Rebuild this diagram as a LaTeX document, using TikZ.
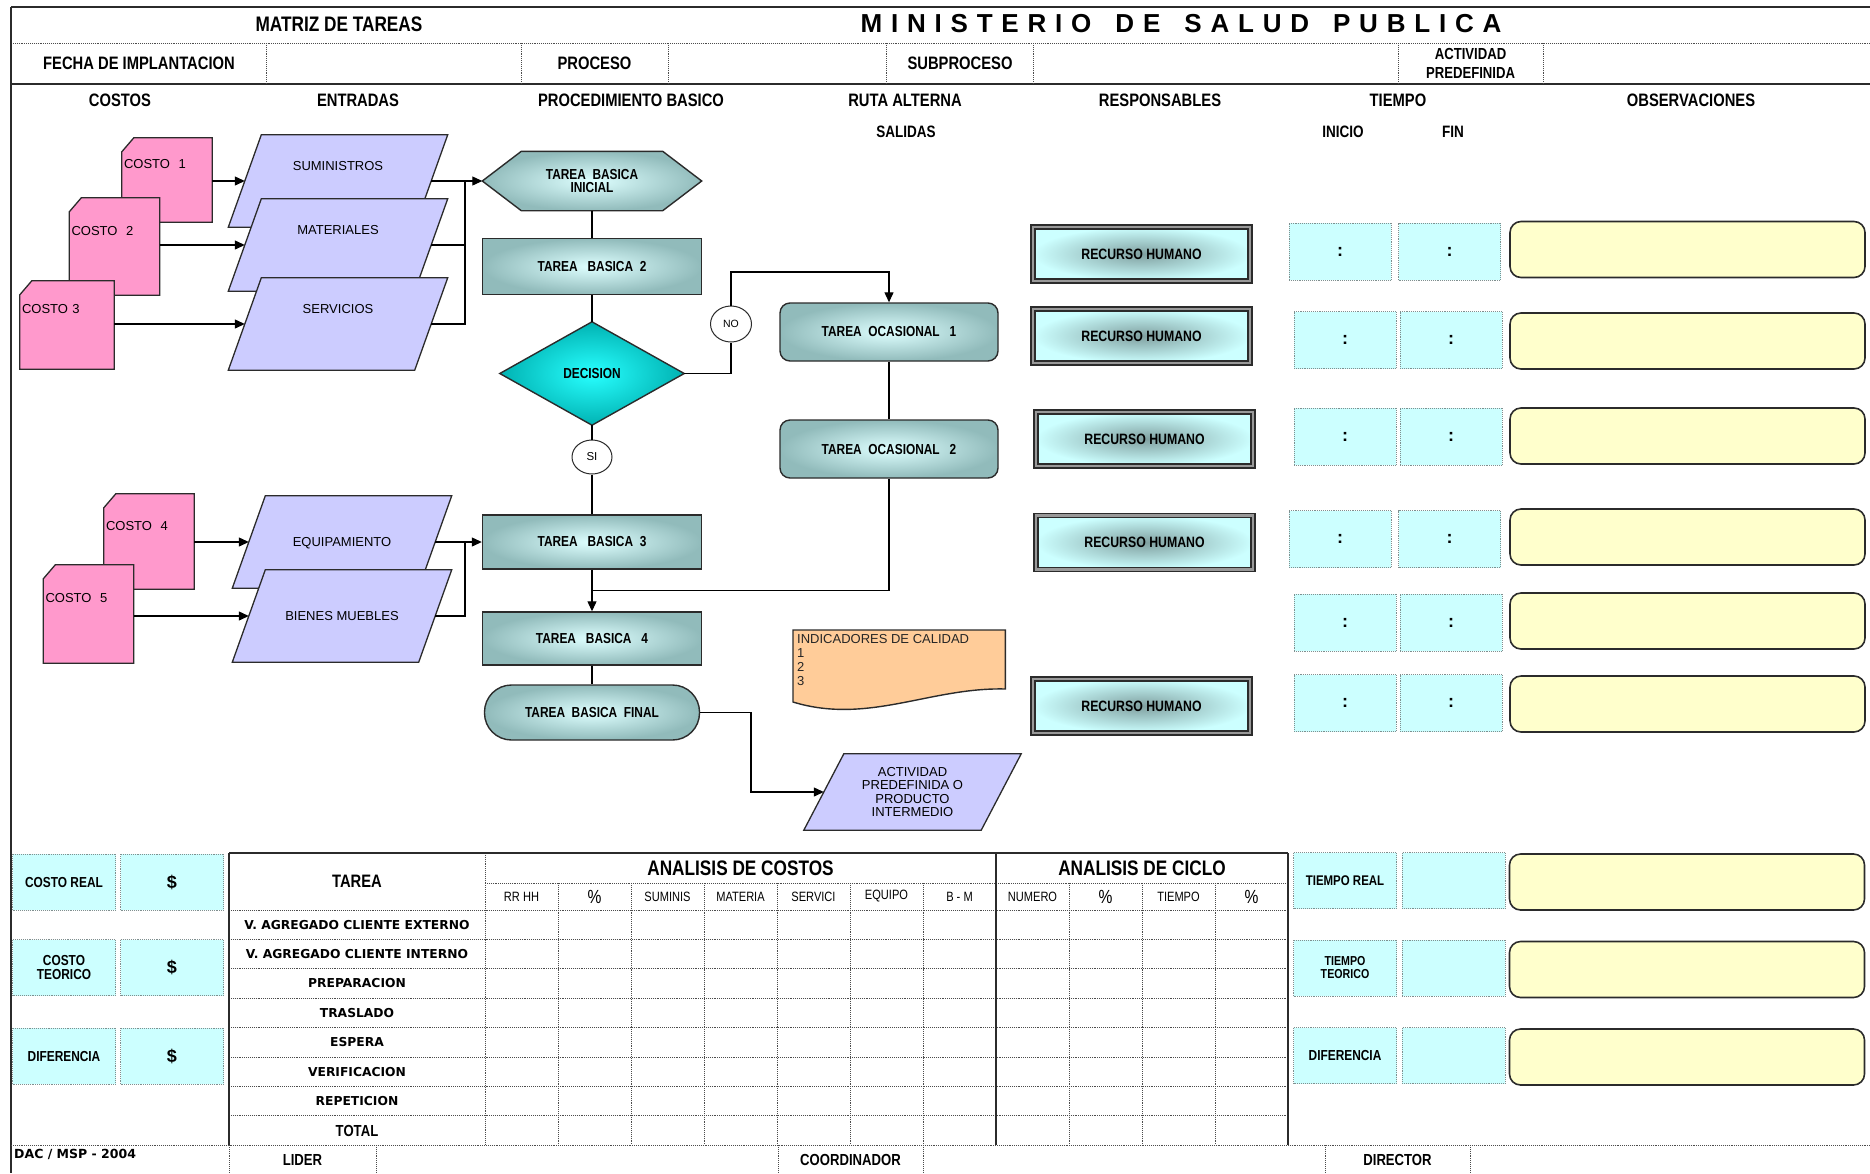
\documentclass[tikz,border=0pt]{standalone}
\usepackage{fontspec}
\setmainfont{Liberation Sans}
\newfontfamily\narrowfont[FakeStretch=0.82]{Liberation Sans}
\newfontfamily\heavyfont{DejaVu Sans}
\usetikzlibrary{shapes.geometric,arrows.meta,calc}
\pgfdeclarelayer{bg}
\pgfsetlayers{bg,main}

\definecolor{costpink}{HTML}{FF99CC}
\definecolor{inputlav}{HTML}{CCCCFF}
\definecolor{tealedge}{RGB}{145,187,187}
\definecolor{tealcore}{RGB}{222,255,255}
\definecolor{decedge}{RGB}{0,178,178}
\definecolor{deccore}{RGB}{40,255,255}
\definecolor{palecyan}{HTML}{CCFFFF}
\definecolor{paleyellow}{HTML}{FFFFCC}
\definecolor{peach}{HTML}{FFCC99}
\definecolor{rhcore}{RGB}{128,160,160}
\definecolor{ink}{HTML}{2B2B2B}
\definecolor{dotgray}{HTML}{7F8F8F}

\newcommand\msplet{\kern8.8pt}
\newcommand\mspword{\kern24pt}

\tikzset{
  frame/.style={draw=ink, line width=1.6pt},
  dotline/.style={draw=black!70, densely dotted, line width=0.9pt},
  hd/.style={font=\narrowfont\bfseries\fontsize{18}{20}\selectfont, inner sep=0pt},
  hdsmall/.style={font=\narrowfont\bfseries\fontsize{16}{19}\selectfont, inner sep=0pt, align=center},
  ft/.style={font=\narrowfont\bfseries\fontsize{14.5}{13}\selectfont, align=center, inner sep=0pt},
  cardbox/.style={inner sep=2pt, text width=86pt, align=left, text depth=32pt, font=\fontsize{13}{15}\selectfont},
  cardshape/.style={draw=ink, line width=1.3pt, fill=costpink},
  inbox/.style={inner sep=0pt, minimum width=186pt, minimum height=92pt, text depth=30pt, font=\fontsize{13}{15}\selectfont},
  inshape/.style={draw=ink, line width=1.3pt, fill=inputlav},
  tealbox/.style={draw=ink, line width=1.4pt, inner color=tealcore, outer color=tealedge, minimum width=219pt, minimum height=56pt, ft},
  bubble/.style={ellipse, draw=ink, line width=1pt, fill=white, inner sep=0pt, font=\fontsize{11.5}{12}\selectfont},
  rhbox/.style={draw=ink, line width=1.6pt, double=black!40, double distance=2.6pt, inner color=rhcore, outer color=palecyan, minimum width=217pt, minimum height=54pt, font=\narrowfont\bfseries\fontsize{15}{16}\selectfont},
  timecell/.style={fill=palecyan, draw=dotgray, densely dotted, line width=0.9pt, minimum width=102pt, minimum height=57pt, inner sep=0pt, font=\bfseries\fontsize{18}{18}\selectfont},
  obsbox/.style={fill=paleyellow, draw=ink, line width=1.6pt, rounded corners=11pt, minimum width=355pt, minimum height=56pt},
  arr/.style={draw=black, line width=1.2pt, -{Triangle[length=10pt,width=9pt]}},
  link/.style={draw=black, line width=1.2pt},
  rowlbl/.style={font=\heavyfont\bfseries\fontsize{12.3}{13}\selectfont, inner sep=0pt},
  subhd/.style={font=\narrowfont\fontsize{13.5}{14}\selectfont, inner sep=0pt},
  pct/.style={font=\narrowfont\fontsize{19}{19}\selectfont, inner sep=0pt},
  sumlbl/.style={fill=palecyan, draw=dotgray, densely dotted, line width=0.9pt, minimum width=103pt, minimum height=56pt, inner sep=0pt, align=center, font=\narrowfont\bfseries\fontsize{14.5}{14}\selectfont},
}

\begin{document}
\begin{tikzpicture}[x=1pt,y=-1pt]
\useasboundingbox (0,0) rectangle (1870,1173);

% ---------- form frame ----------
\draw[frame, line width=2pt] (11,7) -- (1870,7);
\draw[dotline] (11,43) -- (1870,43);
\draw[frame, line width=2.2pt] (11,84) -- (1870,84);
\draw[frame] (11,7) -- (11,1173);
\foreach \vx in {266,521,668,886,1033,1398,1543}
  \draw[dotline] (\vx,43) -- (\vx,84);

% ---------- header texts ----------
\node[font=\narrowfont\bfseries\fontsize{21}{23}\selectfont, inner sep=0pt] (mtitle) at (339,24) {MATRIZ DE TAREAS};
\node[font=\bfseries\fontsize{26}{28}\selectfont, inner sep=0pt] (ministry) at (1181,24)
  {M\msplet I\msplet N\msplet I\msplet S\msplet T\msplet E\msplet R\msplet I\msplet O\mspword D\msplet E\mspword S\msplet A\msplet L\msplet U\msplet D\mspword P\msplet U\msplet B\msplet L\msplet I\msplet C\msplet A};
\node[hd] (fecha) at (139,63.5) {FECHA DE IMPLANTACION};
\node[hd] (proceso) at (594.5,63.5) {PROCESO};
\node[hd] (subproceso) at (960,63.5) {SUBPROCESO};
\node[hdsmall] (actpre) at (1470.5,63.5) {ACTIVIDAD\\PREDEFINIDA};

\node[hd] (hcostos) at (120,100) {COSTOS};
\node[hd] (hentradas) at (358,100) {ENTRADAS};
\node[hd] (hproc) at (631,100) {PROCEDIMIENTO BASICO};
\node[hd] (hruta) at (905,100) {RUTA ALTERNA};
\node[hd] (hresp) at (1160,100) {RESPONSABLES};
\node[hd] (htiempo) at (1398,100) {TIEMPO};
\node[hd] (hobs) at (1691,100) {OBSERVACIONES};
\node[hd, font=\narrowfont\bfseries\fontsize{16.5}{18}\selectfont] (hsalidas) at (906,132) {SALIDAS};
\node[hd, font=\narrowfont\bfseries\fontsize{16.5}{18}\selectfont] (hinicio) at (1343,132) {INICIO};
\node[hd, font=\narrowfont\bfseries\fontsize{16.5}{18}\selectfont] (hfin) at (1453,132) {FIN};

% ---------- cost cards ----------
\node[cardbox, minimum height=84pt] (c1) at (167,180) {COSTO\ \ 1};
\node[cardbox, minimum height=97pt] (c2) at (114.5,246.5) {COSTO\ \ 2};
\node[cardbox, minimum height=88pt, text width=90pt] (c3) at (67,325) {COSTO 3};
\node[cardbox, minimum height=95pt] (c4) at (149,541.5) {COSTO\ \ 4};
\node[cardbox, minimum height=98pt] (c5) at (88.5,614) {COSTO\ \ 5};

% ---------- inputs ----------
\node[inbox] (s1) at (338,181) {SUMINISTROS};
\node[inbox] (s2) at (338,245) {MATERIALES};
\node[inbox] (s3) at (338,324) {SERVICIOS};
\node[inbox, text depth=0pt] (e1) at (342,542) {EQUIPAMIENTO};
\node[inbox, text depth=0pt] (e2) at (342,616) {BIENES MUEBLES};

% ---------- basic procedure ----------
\node[ft, minimum width=219pt, minimum height=59pt] (tbi) at (592,181) {TAREA\ \ BASICA\\INICIAL};
\node[tealbox] (tb2) at (592,266.5) {TAREA\ \ \ BASICA\ \ 2};
\node[ft, minimum width=184pt, minimum height=103pt] (dec) at (592,373.5) {DECISION};
\node[bubble, minimum width=40pt, minimum height=34pt] (si) at (592,457) {SI};
\node[tealbox, minimum height=54pt] (tb3) at (592,542) {TAREA\ \ \ BASICA\ \ 3};
\node[tealbox, minimum height=53pt] (tb4) at (592,638.5) {TAREA\ \ \ BASICA\ \ \ 4};
\node[tealbox, minimum width=215pt, minimum height=55pt, rounded corners=27pt] (tbf) at (592,712.5) {TAREA\ \ BASICA\ \ FINAL};

% ---------- alternative route ----------
\node[bubble, minimum width=41pt, minimum height=36pt, font=\fontsize{10.5}{11}\selectfont] (no) at (731,324) {NO};
\node[tealbox, minimum width=218pt, minimum height=58pt, rounded corners=10pt] (to1) at (889,332) {TAREA\ \ OCASIONAL\ \ \ 1};
\node[tealbox, minimum width=218pt, minimum height=58pt, rounded corners=10pt] (to2) at (889,449) {TAREA\ \ OCASIONAL\ \ \ 2};
\coordinate (noturn) at (731,272);
\coordinate (fturn) at (751,712);

% ---------- outputs ----------
\node[minimum width=212pt, minimum height=60pt, anchor=north west, inner sep=0pt] (ind) at (793,630) {};
\node[anchor=north west, inner sep=0pt, align=left, font=\fontsize{13}{14}\selectfont, text=black!85] (indtxt) at (797,634) {INDICADORES DE CALIDAD\\1\\2\\3};
\node[inner sep=0pt, minimum width=177pt, minimum height=76pt, align=center, font=\fontsize{13}{13.5}\selectfont] (act) at (912.5,792) {ACTIVIDAD\\PREDEFINIDA O\\PRODUCTO\\INTERMEDIO};

% ---------- shapes behind the texts ----------
\begin{pgfonlayer}{bg}
  \foreach \cc in {c1,c2,c3,c4,c5}
    \path[cardshape] (\cc.south west) -- ($(\cc.north west)+(0,14)$) -- ($(\cc.north west)+(12,0)$) -- (\cc.north east) -- (\cc.south east) -- cycle;
  \foreach \ss in {s1,s2,s3,e1,e2}
    \path[inshape] ($(\ss.north west)+(16.5,0)$) -- ($(\ss.north east)+(16.5,0)$) -- ($(\ss.south east)+(-16.5,0)$) -- ($(\ss.south west)+(-16.5,0)$) -- cycle;
  \shadedraw[draw=ink, line width=1.4pt, inner color=tealcore, outer color=tealedge]
    (tbi.west) -- ($(tbi.north west)+(39,0)$) -- ($(tbi.north east)+(-39,0)$) -- (tbi.east) -- ($(tbi.south east)+(-39,0)$) -- ($(tbi.south west)+(39,0)$) -- cycle;
  \shadedraw[draw=ink, line width=1.4pt, inner color=deccore, outer color=decedge]
    (dec.north) -- (dec.east) -- (dec.south) -- (dec.west) -- cycle;
  \path[draw=ink, line width=1.4pt, fill=peach]
    (ind.north west) -- (ind.north east) -- ($(ind.north east)+(0,59)$)
    .. controls ($(ind.north east)+(-75,57)$) and ($(ind.north west)+(75,95)$) .. ($(ind.north west)+(0,72)$) -- cycle;
  \path[inshape] ($(act.north west)+(20,0)$) -- ($(act.north east)+(20,0)$) -- ($(act.south east)+(-20,0)$) -- ($(act.south west)+(-20,0)$) -- cycle;
\end{pgfonlayer}

% ---------- connectors ----------
\foreach \cc/\ss in {c1/s1,c2/s2,c3/s3,c4/e1,c5/e2}
  \draw[arr] (\ss.west -| \cc.east) -- (\ss.west);
\coordinate (bus) at (465,0);
\draw[link] (s3.east) -- (s3.east -| bus) -- (s1.east -| bus);
\draw[link] (s2.east) -- (s2.east -| bus);
\draw[arr] (s1.east) -- (tbi.west);
\draw[link] (e2.east) -- (e2.east -| bus) -- (e1.east -| bus);
\draw[arr] (e1.east) -- (tb3.west);

\draw[link] (tbi.south) -- (tb2.north);
\draw[link] (tb2.south) -- (dec.north);
\draw[link] (dec.south) -- (si.north);
\draw[link] (si.south) -- (tb3.north);
\draw[arr] (tb3.south) -- (tb4.north);
\draw[link] (tb4.south) -- (tbf.north);

\draw[link] (dec.east) -| (no.south);
\draw[arr] (no.north) |- (to1.north |- noturn) -- (to1.north);
\draw[link] (to1.south) -- (to2.north);
\coordinate (join) at ($(tb3.south)!0.5!(tb4.north)$);
\draw[link] (to2.south) |- (join);
\draw[arr] (tbf.east) -- (tbf.east -| fturn) |- (act.west);

% ---------- responsables ----------
\node[rhbox] (rh1) at (1141.5,254) {RECURSO HUMANO};
\node[rhbox] (rh2) at (1141.5,336) {RECURSO HUMANO};
\node[rhbox] (rh3) at (1144.5,439) {RECURSO HUMANO};
\node[rhbox] (rh4) at (1144.5,542.5) {RECURSO HUMANO};
\node[rhbox] (rh5) at (1141.5,706) {RECURSO HUMANO};

% ---------- tiempo ----------
\foreach \k/\xa/\xb/\yy in {1/1340/1449.5/251.5, 2/1345/1451/340, 3/1345/1451/436.5, 4/1340/1449.5/539, 5/1345/1451/622.5, 6/1345/1451/703} {
  \node[timecell] (ini\k) at (\xa,\yy) {:};
  \node[timecell] (fin\k) at (\xb,\yy) {:};
}

% ---------- observaciones ----------
\foreach \k/\yy in {1/249.5, 2/341, 3/436, 4/537, 5/621, 6/704}
  \node[obsbox] (obs\k) at (1687.5,\yy) {};

% ---------- cost summary ----------
\node[sumlbl] (creal) at (64,882) {COSTO REAL};
\node[sumlbl, font=\bfseries\fontsize{18}{18}\selectfont] (crealv) at (172,882) {\$};
\node[sumlbl] (cteo) at (64,967.5) {COSTO\\TEORICO};
\node[sumlbl, font=\bfseries\fontsize{18}{18}\selectfont] (cteov) at (172,967.5) {\$};
\node[sumlbl] (cdif) at (64,1056) {DIFERENCIA};
\node[sumlbl, font=\bfseries\fontsize{18}{18}\selectfont] (cdifv) at (172,1056) {\$};

% ---------- time summary ----------
\node[sumlbl, font=\narrowfont\bfseries\fontsize{14}{14}\selectfont] (treal) at (1345,880.5) {TIEMPO REAL};
\node[sumlbl] (trealv) at (1453.5,880.5) {};
\node[obsbox] (trealo) at (1687,882) {};
\node[sumlbl, font=\narrowfont\bfseries\fontsize{13}{13}\selectfont] (tteo) at (1345,968) {TIEMPO\\TEORICO};
\node[sumlbl] (tteov) at (1453.5,968) {};
\node[obsbox] (tteoo) at (1687,969.5) {};
\node[sumlbl] (tdif) at (1345,1055.5) {DIFERENCIA};
\node[sumlbl] (tdifv) at (1453.5,1055.5) {};
\node[obsbox] (tdifo) at (1687,1057) {};

% ---------- analysis table ----------
\foreach \k in {1,...,10}
  \draw[dotline] ({485+73*\k},883) -- ({485+73*\k},1145);
\draw[dotline] (485,853) -- (485,1145);
\draw[dotline] (485,883) -- (1288,883);
\foreach \r in {0,...,7}
  \draw[dotline] (229,{910+29.4*\r}) -- (1288,{910+29.4*\r});
\draw[dotline] (11,1145) -- (1870,1145);
\draw[frame] (229,853) -- (1288,853);
\draw[frame] (229,853) -- (229,1145);
\draw[frame] (996,853) -- (996,1145);
\draw[frame] (1288,853) -- (1288,1145);

\node[hd] (ttarea) at (357,881) {TAREA};
\node[font=\narrowfont\bfseries\fontsize{21}{22}\selectfont, inner sep=0pt] (tcostos) at (740.5,868) {ANALISIS DE COSTOS};
\node[font=\narrowfont\bfseries\fontsize{21}{22}\selectfont, inner sep=0pt] (tciclo) at (1142,868) {ANALISIS DE CICLO};

\node[subhd] (sh1) at (521.5,896.5) {RR HH};
\node[pct] (sh2) at (594.5,896.5) {\%};
\node[subhd] (sh3) at (667.5,896.5) {SUMINIS};
\node[subhd] (sh4) at (740.5,896.5) {MATERIA};
\node[subhd] (sh5) at (813.5,896.5) {SERVICI};
\node[subhd] (sh6) at (886.5,896.5) {EQUIPO};
\node[subhd] (sh7) at (959.5,896.5) {B - M};
\node[subhd] (sh8) at (1032.5,896.5) {NUMERO};
\node[pct] (sh9) at (1105.5,896.5) {\%};
\node[subhd] (sh10) at (1178.5,896.5) {TIEMPO};
\node[pct] (sh11) at (1251.5,896.5) {\%};

\foreach \lbl [count=\k] in {V. AGREGADO CLIENTE EXTERNO, V. AGREGADO CLIENTE INTERNO, PREPARACION, TRASLADO, ESPERA, VERIFICACION, REPETICION}
  \node[rowlbl] (row\k) at (357,{910+29.4*(\k-0.5)}) {\lbl};
\node[hd, font=\narrowfont\bfseries\fontsize{16}{17}\selectfont] (rowtotal) at (357,{910+29.4*7.5}) {TOTAL};

% ---------- footer ----------
\foreach \vx in {229,376,778,923,1325,1470}
  \draw[dotline] (\vx,1145) -- (\vx,1173);
\node[rowlbl, anchor=west, font=\heavyfont\bfseries\fontsize{12.5}{13}\selectfont] (dac) at (14,1154) {DAC / MSP - 2004};
\node[hd, font=\narrowfont\bfseries\fontsize{16}{17}\selectfont] (lider) at (302.5,1160) {LIDER};
\node[hd, font=\narrowfont\bfseries\fontsize{16}{17}\selectfont] (coord) at (850.5,1160) {COORDINADOR};
\node[hd, font=\narrowfont\bfseries\fontsize{16}{17}\selectfont] (director) at (1397.5,1160) {DIRECTOR};

\end{tikzpicture}
\end{document}
